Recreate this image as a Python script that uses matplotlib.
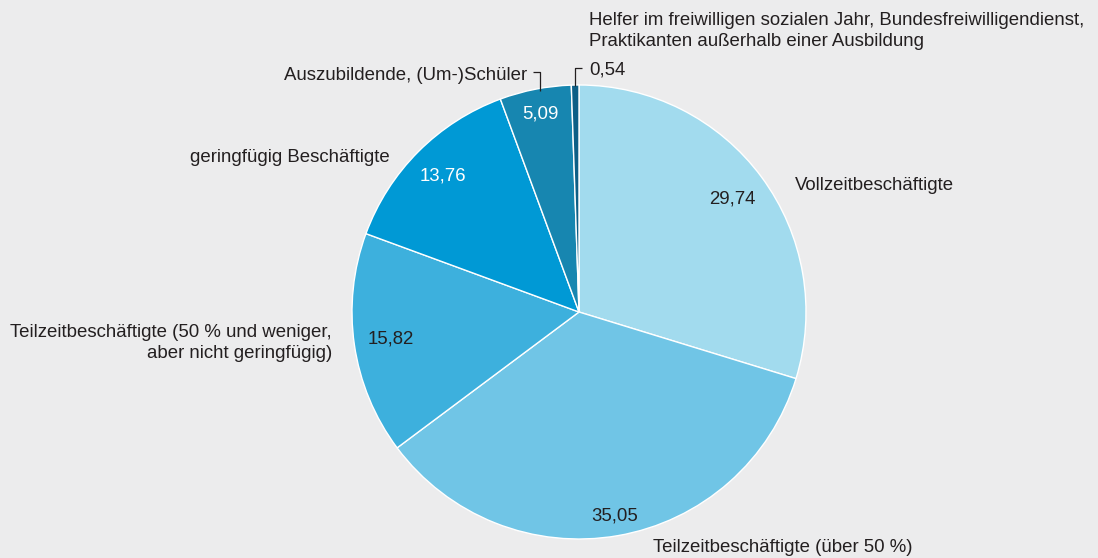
import numpy as np
import matplotlib.pyplot as plt

plt.rcParams['font.family'] = ['Liberation Sans', 'DejaVu Sans']

# shares in percent, clockwise from the top
categories = ['Vollzeitbeschäftigte',
              'Teilzeitbeschäftigte (über 50 %)',
              'Teilzeitbeschäftigte (50 % und weniger,\naber nicht geringfügig)',
              'geringfügig Beschäftigte',
              'Auszubildende, (Um-)Schüler',
              'Helfer im freiwilligen sozialen Jahr, Bundesfreiwilligendienst,\nPraktikanten außerhalb einer Ausbildung']
values = [29.74, 35.05, 15.82, 13.76, 5.09, 0.54]
value_labels = ['29,74', '35,05', '15,82', '13,76', '5,09', '0,54']
colors = ['#a2dbee', '#70c5e6', '#3db0dd', '#0099d5', '#1786b0', '#0d5f86']

bg = '#ececed'
txt = '#231f20'

fig = plt.figure(figsize=(10.98, 5.58), dpi=100, facecolor=bg)
ax = fig.add_axes([0, 0, 1, 1])
ax.set_facecolor(bg)

cx, cy, R = 579, 246, 227
wedges, _ = ax.pie(values, colors=colors, startangle=90, counterclock=False,
                   center=(cx, cy), radius=R, frame=True,
                   wedgeprops=dict(edgecolor='white', linewidth=1.0))
ax.set_xlim(0, 1098)
ax.set_ylim(0, 558)
ax.set_aspect('equal')
ax.axis('off')

fs = 13.4

# value labels inside the wedges
dist = [0.84, 0.91, 0.84, 0.85, 0.89]
val_colors = [txt, txt, txt, 'white', 'white']
mids = []
for w in wedges:
    mids.append(np.deg2rad((w.theta1 + w.theta2) / 2))
for i in range(5):
    a = mids[i]
    ax.text(cx + dist[i] * R * np.cos(a), cy + dist[i] * R * np.sin(a),
            value_labels[i], ha='center', va='center', fontsize=fs,
            color=val_colors[i])

H = 558
ax.text(795, H - 186, categories[0], ha='left', va='center', fontsize=fs, color=txt)
ax.text(653, H - 547, categories[1], ha='left', va='center', fontsize=fs, color=txt)
ax.text(332, H - 343, categories[2], ha='right', va='center', fontsize=fs,
        color=txt, multialignment='right', linespacing=1.3)
ax.text(390, H - 158, categories[3], ha='right', va='center', fontsize=fs, color=txt)
ax.text(527, H - 76, categories[4], ha='right', va='center', fontsize=fs, color=txt)
ax.text(589, H - 31, categories[5], ha='left', va='center', fontsize=fs,
        color=txt, linespacing=1.3)
ax.text(589, H - 70, value_labels[5], ha='left', va='center', fontsize=fs, color=txt)

# leader lines for the two small wedges
ex = cx + R * np.cos(mids[4]) + 5
ax.plot([ex, ex, ex - 7], [cy + R * np.sin(mids[4]) - 2, H - 72, H - 72],
        color=txt, lw=0.9, solid_capstyle='butt')
ex = cx + R * np.cos(mids[5])
ax.plot([ex, ex, ex + 7], [cy + R - 1, H - 68, H - 68],
        color=txt, lw=0.9, solid_capstyle='butt')

fig.savefig('out.png', dpi=100, facecolor=bg)
